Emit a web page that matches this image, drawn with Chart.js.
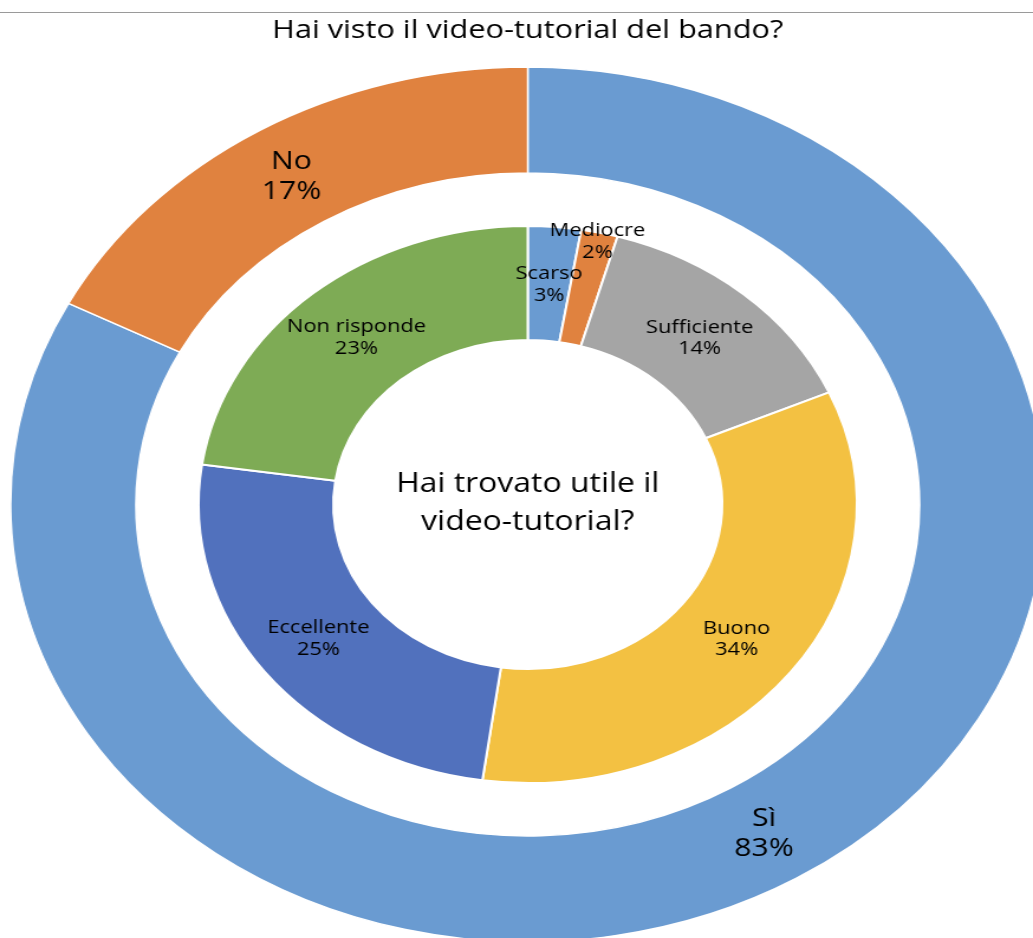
<!DOCTYPE html>
<html><head><meta charset="utf-8">
<script src="https://cdn.jsdelivr.net/npm/chart.js@4.4.0/dist/chart.umd.min.js"></script>
<style>
html,body{margin:0;padding:0;background:#fff;overflow:hidden;}
#wrap{position:relative;width:1033px;height:938px;overflow:hidden;}
#c{position:absolute;left:0;top:0;transform:scaleX(1.18192);transform-origin:0 0;}
#rule{position:absolute;left:0;top:12px;width:1033px;height:1px;background:#9a9a9a;}
</style></head><body>
<div id="wrap"><canvas id="c" width="874" height="938"></canvas><div id="rule"></div></div>
<script>
// ---- data ----
const titleText = 'Hai visto il video-tutorial del bando?';
const centerText = ['Hai trovato utile il', 'video-tutorial?'];
const outerLabels = ['Sì', 'No'];
const outerValues = [82.6, 17.4];
const outerColors = ['#6A9BD1', '#E0823F'];
const innerLabels = ['Scarso', 'Mediocre', 'Sufficiente', 'Buono', 'Eccellente', 'Non risponde'];
const innerValues = [2.6, 1.8, 14.0, 33.8, 25.1, 22.7];
const innerColors = ['#6A9BD1', '#E0823F', '#A5A5A5', '#F3C142', '#5171BD', '#7EAB55'];

// ---- geometry (unstretched canvas px) ----
const R_OUT = 437.5, R_OUT_IN = 331.5, R_IN_OUT = 278.5, R_HOLE = 164.5;
const FONT = "'Open Sans', 'Noto Sans', sans-serif";

function pctLabels(vals) {
  const t = vals.reduce((a, b) => a + b, 0);
  return vals.map(v => Math.round(v / t * 100) + '%');
}
const labelSets = {
  0: { names: outerLabels, pcts: pctLabels(outerValues), size: 25.5, gap: 30, pos: {} },
  2: { names: innerLabels, pcts: pctLabels(innerValues), size: 18.5, gap: 21.5, pos: { 'Mediocre': 0.93 } }
};

const ringLabels = {
  id: 'ringLabels',
  afterDatasetsDraw(chart) {
    const ctx = chart.ctx;
    ctx.save();
    ctx.fillStyle = '#000';
    ctx.textAlign = 'center';
    ctx.textBaseline = 'middle';
    Object.keys(labelSets).forEach(k => {
      const set = labelSets[k];
      const meta = chart.getDatasetMeta(+k);
      ctx.font = set.size + 'px ' + FONT;
      meta.data.forEach((arc, i) => {
        const p = arc.getProps(['x', 'y', 'startAngle', 'endAngle', 'innerRadius', 'outerRadius'], true);
        const a = (p.startAngle + p.endAngle) / 2;
        const f = set.pos[set.names[i]] !== undefined ? set.pos[set.names[i]] : 0.5;
        const r = p.innerRadius + f * (p.outerRadius - p.innerRadius);
        const x = p.x + Math.cos(a) * r, y = p.y + Math.sin(a) * r + 1;
        ctx.fillText(set.names[i], x, y - set.gap / 2);
        ctx.fillText(set.pcts[i], x, y + set.gap / 2);
      });
    });
    ctx.restore();
  }
};

const centerLabel = {
  id: 'centerLabel',
  afterDatasetsDraw(chart) {
    const a = chart.getDatasetMeta(2).data[0];
    if (!a) return;
    const ctx = chart.ctx;
    ctx.save();
    ctx.fillStyle = '#000';
    ctx.textAlign = 'center';
    ctx.textBaseline = 'middle';
    ctx.font = '27px ' + FONT;
    ctx.fillText(centerText[0], a.x, a.y - 20);
    ctx.fillText(centerText[1], a.x, a.y + 18);
    ctx.restore();
  }
};

new Chart(document.getElementById('c'), {
  type: 'doughnut',
  data: {
    labels: innerLabels,
    datasets: [
      { label: 'Hai visto il video-tutorial del bando?', data: outerValues, backgroundColor: outerColors,
        borderColor: '#fff', borderWidth: 1.5, weight: R_OUT - R_OUT_IN, clip: false },
      { label: 'gap', data: [1], backgroundColor: 'rgba(0,0,0,0)', borderWidth: 0,
        weight: R_OUT_IN - R_IN_OUT, clip: false },
      { label: 'Hai trovato utile il video-tutorial?', data: innerValues, backgroundColor: innerColors,
        borderColor: '#fff', borderWidth: 2, weight: R_IN_OUT - R_HOLE, clip: false }
    ]
  },
  options: {
    responsive: false,
    animation: false,
    events: [],
    radius: R_OUT,
    cutout: (R_HOLE / R_OUT * 100) + '%',
    layout: { padding: { left: 19, right: 0, top: 0, bottom: 0 } },
    plugins: {
      legend: { display: false },
      tooltip: { enabled: false },
      title: {
        display: true, text: titleText, color: '#000',
        font: { family: FONT, size: 26, weight: 'normal', lineHeight: 1.2 },
        padding: { top: 14.8, bottom: 25 }
      }
    }
  },
  plugins: [ringLabels, centerLabel]
});
</script>
</body></html>
